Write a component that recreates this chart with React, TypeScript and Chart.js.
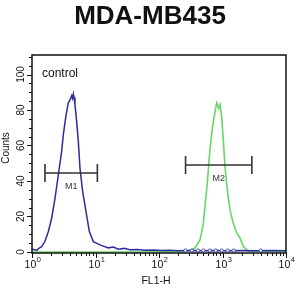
import { useEffect, useRef } from 'react';
import { Chart, registerables } from 'chart.js';

Chart.register(...registerables);

const TITLE = 'MDA-MB435';
const X_TITLE = 'FL1-H';
const Y_TITLE = 'Counts';
const SAMPLE_NOTE = 'control';

// control histogram (blue)
const blueX = [1, 1.2, 1.3, 1.42, 1.6, 1.81, 2.04, 2.3, 2.6, 2.93, 3.11, 3.43, 3.73, 4.0, 4.22, 4.35, 4.48, 4.6, 4.75, 5.05, 5.37, 5.7, 6.28, 7.08, 8.0, 9.25, 11.8, 15.9, 19, 23, 28, 35, 45, 60, 80, 110, 150, 200, 300, 500, 800, 1200, 2000, 3500, 6000, 10000];
const blueY = [1.5, 1.0, 2.2, 3, 6, 11.5, 19, 30, 43.5, 56.7, 66, 77, 84, 86, 88, 86.5, 89, 87, 83, 73.6, 62, 47, 34, 22.8, 11.5, 5.8, 4, 2.3, 2.8, 1.5, 2, 1.2, 1.4, 0.9, 1.1, 0.8, 1, 0.7, 0.8, 0.7, 0.8, 0.7, 0.8, 0.7, 0.8, 0.7];
// hollow markers on the control baseline
const markX = [260, 330, 410, 500, 630, 780, 970, 1200, 1500, 4000];
const markY = [0.8, 0.8, 0.8, 0.8, 0.8, 0.8, 0.8, 0.8, 0.8, 0.8];

// sample histogram (green)
const greenX = [1, 50, 150, 214, 260, 308, 369, 442, 499, 530, 577, 621, 676, 735, 810, 871, 914, 971, 1030, 1094, 1191, 1312, 1480, 1674, 1888, 2130, 2548, 3500, 6000, 10000];
const greenY = [0, 0, 0.2, 0.3, 0.5, 1, 2.2, 6.8, 16, 25.6, 39, 54, 67, 76, 84, 81, 83, 76, 63, 48, 35, 23.7, 16, 10.7, 7.9, 3, 0.4, 0.5, 0.3, 0.3];

// gates
const gateNames = ['M1', 'M2'];
const gateFrom = [1.6, 262];
const gateTo = [10.7, 2900];
const gateLevel = [44.5, 49];

// axes
const xDecades = [1, 10, 100, 1000, 10000];
const xExponents = ['0', '1', '2', '3', '4'];
const yMajor = [0, 20, 40, 60, 80, 100];
const yMinorStep = 5;
const yMin = -0.6;
const yMax = 111;

const BLUE = '#2c2c9c';
const GREEN = '#66d866';
const FONT = '"Liberation Sans", Arial, Helvetica, sans-serif';

const overlay = {
  id: 'overlay',
  afterDraw(chart: any) {
    const { ctx, chartArea: a, scales } = chart;
    const x = scales.x;
    const y = scales.y;
    ctx.save();
    ctx.fillStyle = '#111';
    ctx.strokeStyle = '#111';

    // title
    ctx.font = `bold 26px ${FONT}`;
    ctx.textAlign = 'center';
    ctx.textBaseline = 'alphabetic';
    ctx.fillText(TITLE, 150, 24);

    // frame
    ctx.lineWidth = 1.5;
    ctx.strokeRect(a.left, a.top, a.right - a.left, a.bottom - a.top);

    // x ticks
    ctx.lineWidth = 1;
    for (let d = 0; d < xDecades.length; d++) {
      const base = xDecades[d];
      const px = Math.round(x.getPixelForValue(base)) + 0.5;
      ctx.beginPath();
      ctx.moveTo(px, a.bottom);
      ctx.lineTo(px, a.bottom + 5);
      ctx.stroke();
      if (d < xDecades.length - 1) {
        for (let m = 2; m <= 9; m++) {
          const mx = Math.round(x.getPixelForValue(base * m)) + 0.5;
          ctx.beginPath();
          ctx.moveTo(mx, a.bottom);
          ctx.lineTo(mx, a.bottom + 3);
          ctx.stroke();
        }
      }
      // label 10^k
      ctx.font = `10.5px ${FONT}`;
      const w10 = ctx.measureText('10').width;
      ctx.font = `7.5px ${FONT}`;
      const we = ctx.measureText(xExponents[d]).width;
      const left = px - (w10 + we) / 2;
      ctx.textAlign = 'left';
      ctx.font = `10.5px ${FONT}`;
      ctx.fillText('10', left, 268);
      ctx.font = `7.5px ${FONT}`;
      ctx.fillText(xExponents[d], left + w10 + 0.5, 262);
    }

    // y ticks
    for (let v = 0; v <= 110; v += yMinorStep) {
      const py = Math.round(y.getPixelForValue(v)) + 0.5;
      const major = yMajor.includes(v);
      ctx.beginPath();
      ctx.moveTo(a.left, py);
      ctx.lineTo(a.left - (major ? 5 : 3), py);
      ctx.stroke();
    }
    ctx.font = `10px ${FONT}`;
    ctx.textAlign = 'center';
    ctx.textBaseline = 'middle';
    for (const v of yMajor) {
      const py = y.getPixelForValue(v);
      ctx.save();
      ctx.translate(21, py);
      ctx.rotate(-Math.PI / 2);
      ctx.fillText(String(v), 0, 0);
      ctx.restore();
    }

    // axis titles
    ctx.save();
    ctx.translate(6, 148);
    ctx.rotate(-Math.PI / 2);
    ctx.font = `10px ${FONT}`;
    ctx.fillText(Y_TITLE, 0, 0);
    ctx.restore();
    ctx.font = `10.5px ${FONT}`;
    ctx.fillText(X_TITLE, 156, 281);

    // note
    ctx.font = `12px ${FONT}`;
    ctx.textAlign = 'left';
    ctx.textBaseline = 'alphabetic';
    ctx.fillText(SAMPLE_NOTE, 42, 77);

    // gates
    ctx.strokeStyle = '#333';
    ctx.fillStyle = '#333';
    ctx.lineWidth = 1.6;
    for (let i = 0; i < gateNames.length; i++) {
      const x1 = x.getPixelForValue(gateFrom[i]);
      const x2 = x.getPixelForValue(gateTo[i]);
      const gy = y.getPixelForValue(gateLevel[i]);
      ctx.beginPath();
      ctx.moveTo(x1, gy);
      ctx.lineTo(x2, gy);
      ctx.moveTo(x1, gy - 9);
      ctx.lineTo(x1, gy + 9);
      ctx.moveTo(x2, gy - 9);
      ctx.lineTo(x2, gy + 9);
      ctx.stroke();
      ctx.font = `9px ${FONT}`;
      ctx.textAlign = 'center';
      ctx.textBaseline = 'middle';
      ctx.fillText(gateNames[i], (x1 + x2) / 2, gy + 14);
    }
    ctx.restore();
  },
};

export default function App() {
  const ref = useRef<HTMLCanvasElement>(null);
  useEffect(() => {
    const chart = new Chart(ref.current as HTMLCanvasElement, {
      type: 'line',
      data: {
        datasets: [
          {
            data: markX.map((v, i) => ({ x: v, y: markY[i] })),
            showLine: false,
            pointRadius: 1.6,
            pointBorderWidth: 0.8,
            pointBorderColor: BLUE,
            pointBackgroundColor: '#ffffff',
            order: 0,
          },
          {
            data: blueX.map((v, i) => ({ x: v, y: blueY[i] })),
            borderColor: BLUE,
            borderWidth: 1.5,
            pointRadius: 0,
            tension: 0,
            order: 1,
          },
          {
            data: greenX.map((v, i) => ({ x: v, y: greenY[i] })),
            borderColor: GREEN,
            borderWidth: 1.6,
            pointRadius: 0,
            tension: 0,
            order: 2,
          },
        ],
      },
      options: {
        animation: false,
        responsive: false,
        events: [],
        layout: { padding: { top: 55, right: 14, left: 0, bottom: 0 } },
        plugins: {
          legend: { display: false },
          tooltip: { enabled: false },
          title: { display: false },
        },
        scales: {
          x: {
            type: 'logarithmic',
            min: xDecades[0],
            max: xDecades[xDecades.length - 1],
            grid: { display: false },
            border: { display: false },
            ticks: { display: false },
            afterFit: (s: any) => {
              s.height = 37;
              s.paddingLeft = 0;
              s.paddingRight = 0;
            },
          },
          y: {
            min: yMin,
            max: yMax,
            grid: { display: false },
            border: { display: false },
            ticks: { display: false },
            afterFit: (s: any) => {
              s.width = 32;
              s.paddingTop = 0;
              s.paddingBottom = 0;
            },
          },
        },
      } as any,
      plugins: [overlay],
    });
    return () => chart.destroy();
  }, []);
  return (
    <div style={{ position: 'fixed', left: 0, top: 0, width: 300, height: 290, background: '#fff' }}>
      <canvas ref={ref} width={300} height={290} style={{ display: 'block' }} />
    </div>
  );
}
